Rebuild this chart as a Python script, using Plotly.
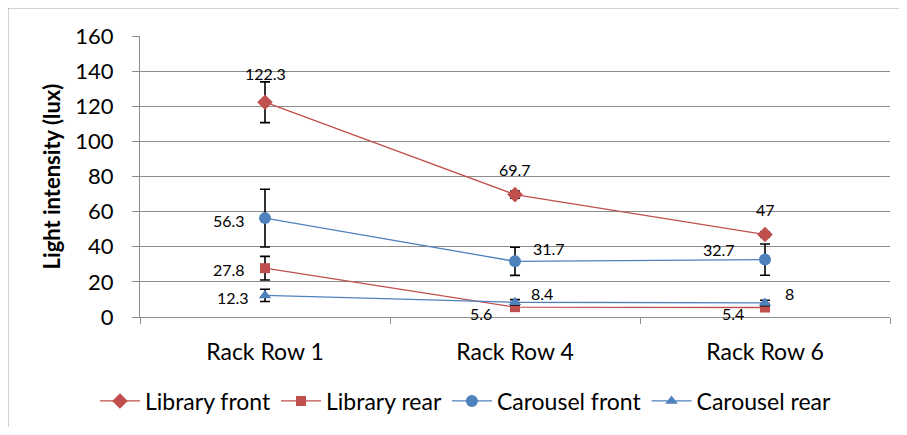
import plotly.graph_objects as go

categories = ["Rack Row 1", "Rack Row 4", "Rack Row 6"]

library_front = [122.3, 69.7, 47]
library_rear = [27.8, 5.6, 5.4]
carousel_front = [56.3, 31.7, 32.7]
carousel_rear = [12.3, 8.4, 8]

library_front_err = [11.6, 2.0, 1.5]
library_rear_err = [6.7, 1.0, 1.0]
carousel_front_err = [16.4, 8.0, 8.9]
carousel_rear_err = [3.5, 1.5, 1.5]

y_ticks = [0, 20, 40, 60, 80, 100, 120, 140, 160]

RED = "#C0504D"
BLUE = "#4F81BD"
FONT = "Lato"

series = [
    ("Library front", library_front, library_front_err, RED, "diamond", 12),
    ("Library rear", library_rear, library_rear_err, RED, "square", 10),
    ("Carousel front", carousel_front, carousel_front_err, BLUE, "circle", 12),
    ("Carousel rear", carousel_rear, carousel_rear_err, BLUE, "triangle-up", 11),
]

fig = go.Figure()
for name, vals, errs, col, sym, sz in series:
    fig.add_trace(go.Scatter(
        x=categories, y=vals, name=name, mode="lines+markers",
        line=dict(color=col, width=1.3),
        marker=dict(symbol=sym, size=sz, color=col),
        error_y=dict(type="data", array=errs, visible=True,
                     color="black", thickness=1.6, width=5),
    ))

# label offsets (pixels) per series/point
offsets = {
    "Library front": [(0, 29), (0, 25), (0, 25)],
    "Library rear": [(-36, -1), (-34, -6), (-32, -6)],
    "Carousel front": [(-36, -2), (34, 13), (-46, 10)],
    "Carousel rear": [(-32, -2), (27, 9), (24, 9)],
}
annotations = []
for name, vals, errs, col, sym, sz in series:
    for i, v in enumerate(vals):
        dx, dy = offsets[name][i]
        annotations.append(dict(
            x=categories[i], y=v, xref="x", yref="y", text=f"{v:g}",
            showarrow=False, xshift=dx, yshift=dy,
            font=dict(family=FONT, size=16, color="black"),
        ))

shapes = [
    dict(type="line", xref="paper", yref="paper", x0=-0.176, x1=1.05,
         y0=1.0996, y1=1.0996, line=dict(color="#A6A6A6", width=1)),
    dict(type="line", xref="paper", yref="paper", x0=-0.176, x1=-0.176,
         y0=-0.45, y1=1.0996, line=dict(color="#A6A6A6", width=1)),
]

fig.update_layout(
    width=891, height=419,
    margin=dict(l=132, r=9, t=28, b=110),
    paper_bgcolor="white", plot_bgcolor="white",
    font=dict(family=FONT, size=22, color="black"),
    showlegend=True,
    legend=dict(orientation="h", xref="container", x=0.514, xanchor="center",
                yref="container", y=0.062, yanchor="middle",
                font=dict(family=FONT, size=23),
                bgcolor="rgba(0,0,0,0)", itemwidth=40, tracegroupgap=0),
    annotations=annotations,
    shapes=shapes,
    xaxis=dict(
        type="category", showgrid=False, showline=True, linecolor="#8C8C8C",
        linewidth=1.3, ticks="outside", tickson="boundaries", ticklen=6,
        tickcolor="#8C8C8C", tickwidth=1.3, ticklabelstandoff=14,
        tickfont=dict(family=FONT, size=23), range=[-0.5, 2.5],
    ),
    yaxis=dict(
        range=[0, 160], tickvals=y_ticks, showgrid=True, gridcolor="#8C8C8C",
        gridwidth=1.3, showline=True, linecolor="#8C8C8C", linewidth=1.3,
        ticks="outside", ticklen=7, tickcolor="#8C8C8C", tickwidth=1.3,
        ticklabelstandoff=14, tickfont=dict(family=FONT, size=22), zeroline=False,
        title=dict(text="<b>Light intensity (lux)</b>", standoff=8,
                   font=dict(family=FONT, size=22)),
    ),
)

fig.write_html("out.html")
